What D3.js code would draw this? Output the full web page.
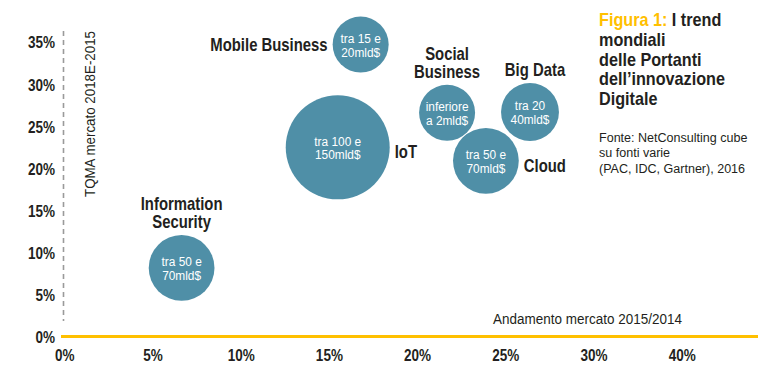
<!DOCTYPE html>
<html>
<head>
<meta charset="utf-8">
<script src="https://cdn.jsdelivr.net/npm/d3@7"></script>
<style>
  body { margin: 0; background: #fff; }
  svg { display: block; }
  text { font-family: 'Liberation Sans', Arial, sans-serif; fill: #231f20; }
</style>
</head>
<body>
<svg id="svg" width="758" height="376"></svg>
<script>
// Trend mondiali delle portanti dell'innovazione digitale

var nomi = ["Mobile Business", "IoT", "Social Business", "Big Data", "Cloud", "Information Security"];
// Andamento mercato 2015/2014 (%)
var andamento = [16.8, 15.5, 21.7, 26.4, 23.9, 6.65];
// TQMA mercato 2018E-2015 (%)
var tqma = [34.7, 22.5, 26.6, 26.7, 20.9, 8.2];
// dimensione relativa della bolla
var dimensione = [29, 100, 29, 31, 40, 40];
var valoreMercato = [
  ["tra 15 e", "20mld$"],
  ["tra 100 e", "150mld$"],
  ["inferiore", "a 2mld$"],
  ["tra 20", "40mld$"],
  ["tra 50 e", "70mld$"],
  ["tra 50 e", "70mld$"]
];
// where the name sits relative to the bubble
var posizioneNome = ["left", "right", "top", "top", "right", "top"];

var xTicks = [0, 5, 10, 15, 20, 25, 30, 35];
var xTickLabels = ["0%", "5%", "10%", "15%", "20%", "25%", "30%", "40%"];
var yTicks = [0, 5, 10, 15, 20, 25, 30, 35];

var titolo = ["I trend", "mondiali", "delle Portanti", "dell\u2019innovazione", "Digitale"];
var fonte = ["Fonte: NetConsulting cube", "su fonti varie", "(PAC, IDC, Gartner), 2016"];

var BLU = "#4f8fa7",
  GIALLO = "#ffc000",
  NERO = "#231f20";

var svg = d3.select("#svg");

var x = d3.scaleLinear().domain([0, 35]).range([64.3, 681.7]);
var y = d3.scaleLinear().domain([0, 35]).range([337, 42]);
var r = d3.scaleSqrt().domain([0, 100]).range([0, 52]);

// condensed look: Liberation Sans squeezed horizontally
var testo = function(parent, tx, ty, righe, opt){
  var g = parent.append("g").attr("transform", "translate(" + tx + "," + ty + ")" + (opt.rotate ? " rotate(" + opt.rotate + ")" : ""));
  var t = g.append("text")
    .attr("transform", "scale(" + opt.k + ",1)")
    .attr("text-anchor", opt.anchor || "start")
    .style("font-size", opt.size + "px")
    .style("font-weight", opt.bold ? "bold" : "normal")
    .style("fill", opt.fill || NERO);
  righe.forEach(function(riga, i){
    t.append("tspan").attr("x", 0).attr("y", i * (opt.lh || 0)).text(riga);
  });
  return t;
};

// vertical dashed axis
svg.append("line")
  .attr("x1", 63.5).attr("x2", 63.5)
  .attr("y1", 31).attr("y2", 321)
  .style("stroke", "#9a9a9a")
  .style("stroke-width", 1.6)
  .style("stroke-dasharray", "5,4");

// x axis (labels only)
var xAxis = d3.axisBottom(x)
  .tickValues(xTicks)
  .tickSize(0)
  .tickPadding(0)
  .tickFormat(function(d, i){ return xTickLabels[i]; });

var gx = svg.append("g").call(xAxis);
gx.select(".domain").remove();
gx.attr("font-family", null).attr("font-size", null);
gx.selectAll("text")
  .attr("y", 361.5)
  .attr("dy", 0)
  .attr("transform", "scale(0.82,1)")
  .style("font-size", "16.5px")
  .style("font-weight", "bold")
  .style("fill", NERO);

// y axis (labels only)
var yAxis = d3.axisLeft(y)
  .tickValues(yTicks)
  .tickSize(0)
  .tickPadding(0)
  .tickFormat(function(d){ return d + "%"; });

var gy = svg.append("g").attr("transform", "translate(55,0)").call(yAxis);
gy.select(".domain").remove();
gy.attr("font-family", null).attr("font-size", null);
gy.selectAll("text")
  .attr("dy", "0.36em")
  .attr("transform", "scale(0.82,1)")
  .style("font-size", "16.5px")
  .style("font-weight", "bold")
  .style("fill", NERO);

// yellow baseline
svg.append("line")
  .attr("x1", 61).attr("x2", 758)
  .attr("y1", y(0) - 0.5).attr("y2", y(0) - 0.5)
  .style("stroke", GIALLO)
  .style("stroke-width", 3);

// axis titles
testo(svg, 682, 324, ["Andamento mercato 2015/2014"], { k: 0.93, size: 14.5, anchor: "end" });
testo(svg, 95, 197, ["TQMA mercato 2018E-2015"], { k: 0.92, size: 14.5, rotate: -90 });

// bubbles
var dati = nomi.map(function(n, i){
  return {
    nome: n,
    x: andamento[i],
    y: tqma[i],
    size: dimensione[i],
    valore: valoreMercato[i],
    pos: posizioneNome[i]
  };
});

var bolle = svg.append("g").selectAll("g")
  .data(dati)
  .enter()
  .append("g")
  .attr("transform", function(d){ return "translate(" + x(d.x) + "," + y(d.y) + ")"; });

bolle.append("circle")
  .attr("r", function(d){ return r(d.size); })
  .style("fill", BLU);

bolle.each(function(d){
  var g = d3.select(this),
    rad = r(d.size);

  testo(g, 0, -1.5, d.valore, { k: 0.88, size: 13.5, anchor: "middle", fill: "#fff", lh: 13.5 });

  var righe = (d.pos === "top" && d.nome !== "Big Data") ? d.nome.split(" ") : [d.nome];
  var opt = { k: 0.85, size: 17.5, bold: true, lh: 17.5 };
  if (d.pos === "left") {
    opt.anchor = "end";
    testo(g, -rad - 5, 6, righe, opt);
  } else if (d.pos === "right") {
    opt.anchor = "start";
    testo(g, rad + 5, 11, righe, opt);
  } else {
    opt.anchor = "middle";
    testo(g, d.nome === "Big Data" ? 5 : 0, -rad - 7 - (righe.length - 1) * 17.5, righe, opt);
  }
});

// title block
var titoloText = testo(svg, 599, 26, titolo, { k: 0.9, size: 18, bold: true, lh: 19.8 });
var primaRiga = titoloText.select("tspan").text(null);
primaRiga.append("tspan").style("fill", GIALLO).text("Figura 1: ");
primaRiga.append("tspan").text(titolo[0]);

testo(svg, 599, 142, fonte, { k: 0.93, size: 13.5, lh: 15.5 });
</script>
</body>
</html>
